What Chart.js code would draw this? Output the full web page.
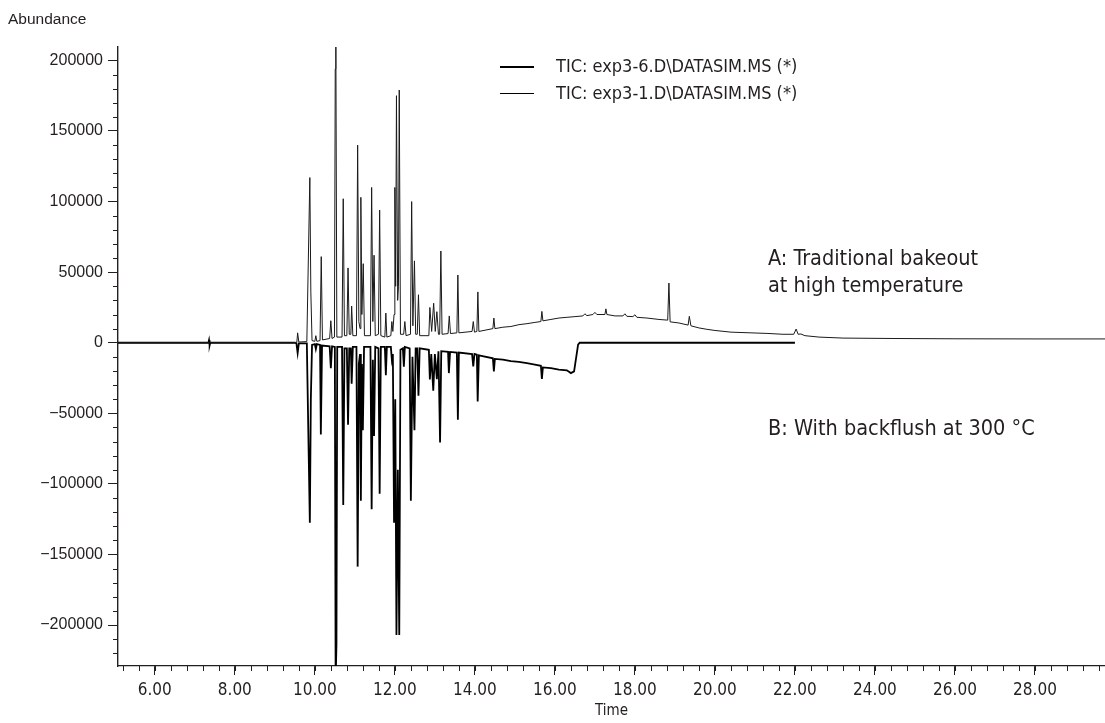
<!DOCTYPE html>
<html>
<head>
<meta charset="utf-8">
<script src="https://cdn.jsdelivr.net/npm/chart.js@4.4.1/dist/chart.umd.min.js"></script>
<style>
  html, body { margin: 0; padding: 0; background: #fff; }
</style>
</head>
<body>
<canvas id="tic" width="1105" height="723"></canvas>
<script>
// trace A: exp3-1 (traditional bakeout)
var aTime = [5.08, 9.45, 9.55, 9.57, 9.60, 9.80, 9.875, 9.90, 9.93, 10.00, 10.025, 10.05, 10.13, 10.16, 10.19,
  10.37, 10.40, 10.43, 10.49, 10.51, 10.525, 10.55, 10.68, 10.71, 10.74, 10.80, 10.83, 10.86, 10.90, 10.92, 10.95,
  11.04, 11.07, 11.10, 11.13, 11.15, 11.175, 11.21, 11.24, 11.39, 11.42, 11.45, 11.48, 11.51, 11.59, 11.62, 11.65,
  11.75, 11.775, 11.80, 11.90, 11.925, 11.95, 11.98, 12.00, 12.02, 12.04, 12.07, 12.09, 12.11, 12.14, 12.22, 12.25,
  12.28, 12.39, 12.42, 12.45, 12.49, 12.52, 12.56, 12.59, 12.62, 12.85, 12.875, 12.92, 12.97, 13.01, 13.05, 13.09,
  13.12, 13.15, 13.18, 13.33, 13.36, 13.39, 13.55, 13.575, 13.60, 13.93, 13.96, 13.99, 14.05, 14.075, 14.10, 14.45,
  14.475, 14.50, 14.7, 14.9, 15.1, 15.3, 15.5, 15.65, 15.675, 15.70, 15.9, 16.1, 16.3, 16.5, 16.7, 16.75, 16.8, 16.95,
  17.0, 17.05, 17.25, 17.275, 17.30, 17.5, 17.7, 17.75, 17.8, 17.95, 18.0, 18.05, 18.3, 18.6, 18.82, 18.85, 18.88,
  19.1, 19.33, 19.36, 19.40, 19.6, 19.8, 20.0, 20.4, 20.9, 21.3, 21.7, 21.97, 22.03, 22.08, 22.15, 22.25, 22.6,
  23.2, 24.5, 26.0, 28.0, 29.75];
var aAbund = [0, 0, 300, 7000, 500, 800, 117000, 36000, 1500, 1000, 5000, 1000, 1500, 61000, 2000,
  3000, 15600, 3000, 4000, 194000, 215000, 4000, 4000, 102000, 5000, 5000, 53000, 6000, 6000, 26000, 5000,
  5000, 140000, 15000, 10000, 103000, 20000, 56000, 5000, 5000, 110000, 15000, 62000, 5000, 6000, 94000, 5000,
  4000, 21000, 4000, 5000, 15000, 8000, 20000, 110000, 40000, 175000, 30000, 40000, 179000, 6000, 6000, 15000,
  5000, 6000, 100000, 12000, 58000, 6000, 6000, 34000, 5000, 5000, 25000, 8000, 28000, 8000, 22000, 6000,
  6000, 65000, 6000, 6500, 19000, 6500, 7000, 48000, 7000, 8000, 15000, 7500, 8000, 36000, 8000, 10000,
  17500, 10000, 11000, 11500, 12800, 13500, 14400, 15000, 22200, 15500, 16500, 17500, 18000, 18500, 19000, 20500, 19200, 20000,
  21500, 20000, 20000, 24000, 20000, 19000, 19000, 20500, 18700, 18500, 19800, 18000, 17500, 16500, 16000, 42300, 14800,
  14000, 12500, 18700, 12000, 10500, 9500, 8700, 7500, 7000, 6600, 6000, 6000, 9700, 6000, 6200, 5000, 4000,
  3300, 3000, 2800, 2700, 2700];

// trace B: exp3-6 (backflush at 300 C), plotted inverted
var bTime = [5.08, 7.34, 7.355, 7.37, 7.385, 9.50, 9.54, 9.57, 9.60, 9.80, 9.875, 9.90, 9.93, 10.00, 10.025, 10.05,
  10.13, 10.15, 10.18, 10.37, 10.40, 10.43, 10.50, 10.52, 10.54, 10.56, 10.68, 10.71, 10.74, 10.80, 10.83, 10.86,
  10.90, 10.92, 10.95, 11.04, 11.07, 11.10, 11.13, 11.15, 11.175, 11.20, 11.23, 11.39, 11.42, 11.45, 11.48, 11.51,
  11.59, 11.62, 11.65, 11.75, 11.775, 11.80, 11.90, 11.925, 11.95, 11.98, 12.01, 12.04, 12.075, 12.11, 12.14, 12.20,
  12.225, 12.25, 12.37, 12.40, 12.44, 12.49, 12.52, 12.56, 12.59, 12.62, 12.85, 12.875, 12.91, 12.96, 13.00, 13.05,
  13.09, 13.10, 13.13, 13.16, 13.33, 13.35, 13.38, 13.55, 13.575, 13.60, 13.93, 13.96, 13.99, 14.05, 14.07, 14.10,
  14.45, 14.475, 14.50, 14.7, 14.9, 15.1, 15.3, 15.5, 15.65, 15.675, 15.70, 15.9, 16.1, 16.3, 16.4, 16.48, 16.58,
  16.62, 22.0];
var bAbund = [0, 0, 1800, -1800, 0, 0, -500, -7300, -500, -500, -127500, -40000, -1500, -1000, -4500, -1000,
  -1500, -65000, -2000, -2500, -18000, -2500, -3000, -240000, -214000, -3000, -3000, -115000, -4000, -4000, -58000, -4000,
  -4000, -29000, -3000, -3000, -158600, -15000, -8000, -112000, -15000, -62000, -3000, -3000, -118000, -12000, -66000, -3000,
  -4000, -107000, -3000, -3000, -23000, -3000, -3000, -12000, -8000, -127500, -40000, -207000, -90000, -207000, -5000, -4000,
  -17000, -3000, -4000, -112000, -10000, -62000, -4000, -4000, -37600, -4000, -5000, -26000, -8000, -34000, -8000, -25800,
  -6000, -6000, -70700, -6000, -6500, -21500, -6500, -7000, -54600, -7000, -8000, -16800, -8000, -8500, -41600, -9000,
  -11000, -20300, -11500, -12000, -13000, -13500, -14500, -15500, -16300, -25700, -17500, -18000, -19000, -19500, -21500, -20300, -1400,
  0, 0];

var xMajorTicks = [6, 8, 10, 12, 14, 16, 18, 20, 22, 24, 26, 28];
var yMajorTicks = [-200000, -150000, -100000, -50000, 0, 50000, 100000, 150000, 200000];
var xRange = [5.08, 29.75];
var yRange = [-229000, 209500];

var narrow = '"Liberation Sans Narrow", "DejaVu Sans Condensed", sans-serif';
var ink = '#231f20';

function toPoints(xs, ys) {
  return xs.map(function (t, i) { return { x: t, y: ys[i] }; });
}

// minor ticks, legend block, annotations and the axis caption
var extras = {
  id: 'extras',
  afterDraw: function (chart) {
    var ctx = chart.ctx, area = chart.chartArea, x = chart.scales.x, y = chart.scales.y;
    ctx.save();
    ctx.strokeStyle = ink;
    ctx.lineWidth = 1;
    ctx.beginPath();
    for (var t = 5.2; t < xRange[1]; t += 0.4) {
      var px = Math.round(x.getPixelForValue(t)) + 0.5;
      ctx.moveTo(px, area.bottom);
      ctx.lineTo(px, area.bottom + 5);
    }
    for (var v = -220000; v <= 200000; v += 10000) {
      if (v % 50000 === 0) continue;
      var py = Math.round(y.getPixelForValue(v)) + 0.5;
      ctx.moveTo(area.left - 5, py);
      ctx.lineTo(area.left, py);
    }
    ctx.stroke();

    // legend
    ctx.strokeStyle = '#000';
    ctx.lineWidth = 2;
    ctx.beginPath(); ctx.moveTo(500, 67); ctx.lineTo(534, 67); ctx.stroke();
    ctx.lineWidth = 1;
    ctx.beginPath(); ctx.moveTo(500, 93.5); ctx.lineTo(534, 93.5); ctx.stroke();
    ctx.fillStyle = ink;
    ctx.textBaseline = 'middle';
    ctx.textAlign = 'left';
    ctx.font = '18px ' + narrow;
    ctx.fillText('TIC: exp3-6.D\\DATASIM.MS (*)', 556, 67);
    ctx.fillText('TIC: exp3-1.D\\DATASIM.MS (*)', 556, 94);

    ctx.font = '21.5px ' + narrow;
    ctx.fillText('A: Traditional bakeout', 768, 259);
    ctx.fillText('at high temperature', 768, 286);
    ctx.fillText('B: With backflush at 300 \u00b0C', 768, 429);

    ctx.font = '15.5px "Liberation Sans", Arial, sans-serif';
    ctx.fillText('Abundance', 8, 20);
    ctx.restore();
  }
};

new Chart(document.getElementById('tic'), {
  type: 'line',
  data: {
    datasets: [
      {
        label: 'TIC: exp3-1.D\\DATASIM.MS (*)',
        data: toPoints(aTime, aAbund),
        borderColor: '#1a1a1a',
        borderWidth: 1,
        pointRadius: 0,
        tension: 0
      },
      {
        label: 'TIC: exp3-6.D\\DATASIM.MS (*)',
        data: toPoints(bTime, bAbund),
        borderColor: '#000',
        borderWidth: 1.8,
        pointRadius: 0,
        tension: 0
      }
    ]
  },
  options: {
    responsive: false,
    animation: false,
    devicePixelRatio: 1,
    layout: { padding: { top: 47, right: 0, left: 0, bottom: 0 } },
    plugins: { legend: { display: false }, tooltip: { enabled: false } },
    scales: {
      x: {
        type: 'linear',
        min: xRange[0],
        max: xRange[1],
        afterBuildTicks: function (s) { s.ticks = xMajorTicks.map(function (v) { return { value: v }; }); },
        afterFit: function (s) { s.height = 57; },
        ticks: {
          autoSkip: false,
          maxRotation: 0,
          padding: 5,
          color: ink,
          font: { family: narrow, size: 17 },
          callback: function (v) { return Number(v).toFixed(2); }
        },
        grid: { display: true, drawOnChartArea: false, drawTicks: true, tickLength: 9, color: ink, lineWidth: 1 },
        border: { display: true, color: ink, width: 1.2 },
        title: { display: true, text: 'Time', color: ink, font: { family: narrow, size: 15 }, padding: { top: 0, bottom: 3 } }
      },
      y: {
        type: 'linear',
        min: yRange[0],
        max: yRange[1],
        afterBuildTicks: function (s) { s.ticks = yMajorTicks.map(function (v) { return { value: v }; }); },
        afterFit: function (s) { s.width = 118; },
        ticks: {
          autoSkip: false,
          padding: 5,
          color: ink,
          font: { family: '"Liberation Sans", Arial, sans-serif', size: 16 },
          callback: function (v) { return v < 0 ? '\u2212' + String(-v) : String(v); }
        },
        grid: { display: true, drawOnChartArea: false, drawTicks: true, tickLength: 10, color: ink, lineWidth: 1 },
        border: { display: true, color: ink, width: 1.4 }
      }
    }
  },
  plugins: [extras]
});
</script>
</body>
</html>
